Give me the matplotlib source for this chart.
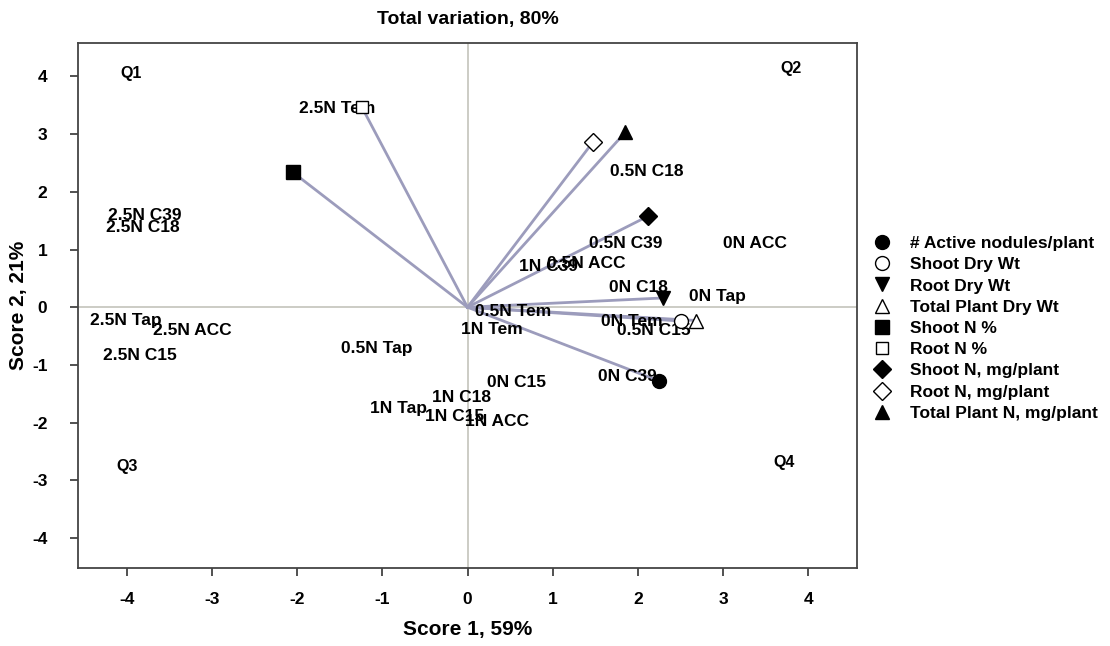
import matplotlib
matplotlib.use("Agg")
import matplotlib.pyplot as plt
from matplotlib.lines import Line2D

plt.rcParams['font.family'] = ['Liberation Sans', 'DejaVu Sans']
plt.rcParams['font.weight'] = 'bold'

# Variable loadings (vector end points)
var_names = ["# Active nodules/plant", "Shoot Dry Wt", "Root Dry Wt", "Total Plant Dry Wt",
             "Shoot N %", "Root N %", "Shoot N, mg/plant", "Root N, mg/plant",
             "Total Plant N, mg/plant"]
var_x = [2.25, 2.51, 2.29, 2.68, -2.05, -1.24, 2.12, 1.47, 1.85]
var_y = [-1.28, -0.24, 0.16, -0.23, 2.34, 3.47, 1.58, 2.86, 3.03]
var_markers = ["o", "o", "v", "^", "s", "s", "D", "D", "^"]
var_fill = ["black", "white", "black", "white", "black", "white", "black", "white", "black"]
var_msize = [10, 10, 10, 10, 10, 9, 9, 9, 10]

# Observation scores (treatment labels)
obs_labels = ["2.5N Tem", "2.5N C39", "2.5N C18", "2.5N Tap", "2.5N ACC", "2.5N C15",
              "0.5N Tap", "0.5N C18", "0.5N C39", "0N ACC", "1N C39", "0.5N ACC",
              "0N C18", "0N Tap", "0.5N Tem", "1N Tem", "0N Tem", "0.5N C15",
              "0N C39", "0N C15", "1N C18", "1N Tap", "1N C15", "1N ACC"]
obs_x = [-1.53, -3.79, -3.81, -4.01, -3.23, -3.84,
         -1.06, 2.10, 1.86, 3.37, 0.95, 1.39,
         2.00, 2.93, 0.53, 0.29, 1.93, 2.19,
         1.87, 0.58, -0.07, -0.81, -0.15, 0.35]
obs_y = [3.45, 1.59, 1.39, -0.23, -0.40, -0.83,
         -0.71, 2.36, 1.11, 1.11, 0.70, 0.76,
         0.35, 0.19, -0.08, -0.39, -0.24, -0.40,
         -1.20, -1.31, -1.56, -1.75, -1.89, -1.98]

quad_labels = ["Q1", "Q2", "Q3", "Q4"]
quad_x = [-3.95, 3.80, -4.00, 3.72]
quad_y = [4.05, 4.14, -2.76, -2.70]

ticks = [-4, -3, -2, -1, 0, 1, 2, 3, 4]

fig = plt.figure(figsize=(11.1, 6.46), dpi=100)
ax = fig.add_axes([78/1110, 1 - 568/646, (857-78)/1110, (568-43)/646])
ax.set_xlim(-4.57, 4.57)
ax.set_ylim(-4.52, 4.58)

ax.axhline(0, color="#c8c8c0", lw=1.3, zorder=1)
ax.axvline(0, color="#c8c8c0", lw=1.3, zorder=1)

for x, y in zip(var_x, var_y):
    ax.plot([0, x], [0, y], color="#9c9cbc", lw=2.0, zorder=2)

for lab, x, y in zip(obs_labels, obs_x, obs_y):
    ax.text(x, y, lab, ha="center", va="center", fontsize=12.5, fontweight="bold", zorder=3)

for lab, x, y in zip(quad_labels, quad_x, quad_y):
    ax.text(x, y, lab, ha="center", va="center", fontsize=11.5, fontweight="bold", zorder=3)

handles = []
for name, x, y, m, fc, ms in zip(var_names, var_x, var_y, var_markers, var_fill, var_msize):
    ax.plot([x], [y], marker=m, markersize=ms, markerfacecolor=fc,
            markeredgecolor="black", markeredgewidth=1.0, linestyle="none", zorder=4)
    handles.append(Line2D([], [], marker=m, markersize=ms, markerfacecolor=fc,
                          markeredgecolor="black", markeredgewidth=1.0, linestyle="none",
                          label=name))

ax.set_xticks(ticks)
ax.set_yticks(ticks)
ax.set_xticklabels([str(t) for t in ticks])
ax.set_yticklabels([str(t) for t in ticks])
ax.tick_params(axis="x", direction="out", length=6, width=1.2, color="#333333",
               labelsize=12.5, top=False, pad=11)
ax.tick_params(axis="y", direction="out", length=6, width=1.2, color="#333333",
               labelsize=12.5, right=False, pad=16)
for lab in ax.get_xticklabels() + ax.get_yticklabels():
    lab.set_fontweight("bold")
for s in ax.spines.values():
    s.set_color("#444444")
    s.set_linewidth(1.3)

ax.set_xlabel("Score 1, 59%", fontsize=15, fontweight="bold", labelpad=10)
ax.set_ylabel("Score 2, 21%", fontsize=15, fontweight="bold", labelpad=3)
ax.set_title("Total variation, 80%", fontsize=14, fontweight="bold", pad=14)

leg = fig.legend(handles=handles, loc="upper left", bbox_to_anchor=(865/1110, 1 - 229/646),
                 frameon=False, fontsize=12.5, handlelength=1.2, handletextpad=1.0,
                 labelspacing=0.35, borderaxespad=0)
for t in leg.get_texts():
    t.set_fontweight("bold")

fig.savefig("out.png", dpi=100)
